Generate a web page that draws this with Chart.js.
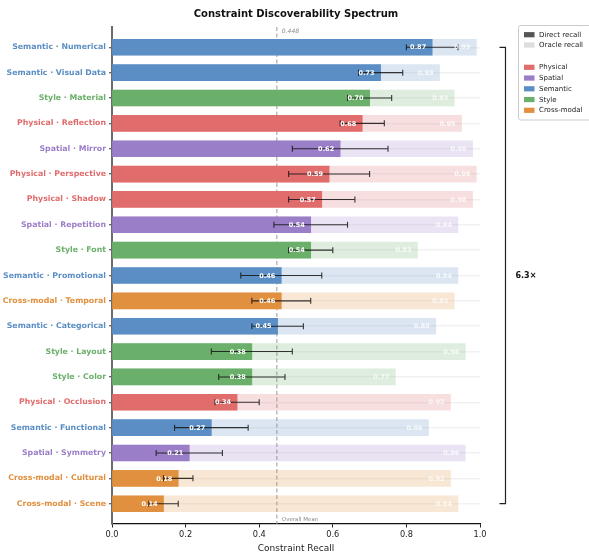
<!DOCTYPE html>
<html>
<head>
<meta charset="utf-8">
<script src="https://cdn.jsdelivr.net/npm/chart.js@4/dist/chart.umd.min.js"></script>
<style>
  html, body { margin: 0; padding: 0; background: #fff; }
  #wrap { width: 589px; height: 555px; position: relative; }
</style>
</head>
<body>
<div id="wrap"><canvas id="c" width="589" height="555"></canvas></div>
<script>
const categories = [
  'Semantic · Numerical', 'Semantic · Visual Data', 'Style · Material', 'Physical · Reflection',
  'Spatial · Mirror', 'Physical · Perspective', 'Physical · Shadow', 'Spatial · Repetition',
  'Style · Font', 'Semantic · Promotional', 'Cross-modal · Temporal', 'Semantic · Categorical',
  'Style · Layout', 'Style · Color', 'Physical · Occlusion', 'Semantic · Functional',
  'Spatial · Symmetry', 'Cross-modal · Cultural', 'Cross-modal · Scene'
];
const groups = [
  'Semantic', 'Semantic', 'Style', 'Physical', 'Spatial', 'Physical', 'Physical', 'Spatial',
  'Style', 'Semantic', 'Cross-modal', 'Semantic', 'Style', 'Style', 'Physical', 'Semantic',
  'Spatial', 'Cross-modal', 'Cross-modal'
];
const directRecall = [0.87, 0.73, 0.70, 0.68, 0.62, 0.59, 0.57, 0.54, 0.54, 0.46, 0.46, 0.45, 0.38, 0.38, 0.34, 0.27, 0.21, 0.18, 0.14];
const oracleRecall = [0.99, 0.89, 0.93, 0.95, 0.98, 0.99, 0.98, 0.94, 0.83, 0.94, 0.93, 0.88, 0.96, 0.77, 0.92, 0.86, 0.96, 0.92, 0.94];
const errLow  = [0.80, 0.67, 0.64, 0.62, 0.49, 0.48, 0.48, 0.44, 0.48, 0.35, 0.38, 0.38, 0.27, 0.29, 0.28, 0.17, 0.12, 0.14, 0.10];
const errHigh = [0.94, 0.79, 0.76, 0.74, 0.75, 0.70, 0.66, 0.64, 0.60, 0.57, 0.54, 0.52, 0.49, 0.47, 0.40, 0.37, 0.30, 0.22, 0.18];
const overallMean = 0.448;
const xTicks = [0.0, 0.2, 0.4, 0.6, 0.8, 1.0];
const groupNames = ['Physical', 'Spatial', 'Semantic', 'Style', 'Cross-modal'];
const groupColors = ['#E06C6C', '#9B7EC8', '#5B8EC4', '#6AAF6A', '#E0903F'];
const ratioLabel = '6.3×';
const titleText = 'Constraint Discoverability Spectrum';

const FONT = "'DejaVu Sans', sans-serif";
function colorOf(g) { return groupColors[groupNames.indexOf(g)]; }
function hexA(hex, a) {
  const n = parseInt(hex.slice(1), 16);
  return `rgba(${(n >> 16) & 255},${(n >> 8) & 255},${n & 255},${a})`;
}

const directData = directRecall.map((v, i) => ({ x: v, y: i }));
const oracleData = oracleRecall.map((v, i) => ({ x: v, y: i }));

const overlay = {
  id: 'overlay',
  beforeDatasetsDraw(chart) {
    const { ctx, chartArea, scales } = chart;
    const xm = scales.x.getPixelForValue(overallMean);
    ctx.save();
    ctx.strokeStyle = '#9a9a9a';
    ctx.lineWidth = 1;
    ctx.setLineDash([4, 2.5]);
    ctx.beginPath();
    ctx.moveTo(xm, chartArea.top);
    ctx.lineTo(xm, chartArea.bottom);
    ctx.stroke();
    ctx.restore();
  },
  afterDatasetsDraw(chart) {
    const { ctx, chartArea, scales } = chart;
    const xs = scales.x, ys = scales.y;
    ctx.save();
    // error bars
    ctx.strokeStyle = 'rgba(20,20,20,0.85)';
    ctx.lineWidth = 1.1;
    for (let i = 0; i < categories.length; i++) {
      const y = ys.getPixelForValue(i);
      const a = xs.getPixelForValue(errLow[i]);
      const b = xs.getPixelForValue(errHigh[i]);
      ctx.beginPath();
      ctx.moveTo(a, y); ctx.lineTo(b, y);
      ctx.moveTo(a, y - 3); ctx.lineTo(a, y + 3);
      ctx.moveTo(b, y - 3); ctx.lineTo(b, y + 3);
      ctx.stroke();
    }
    // value labels
    ctx.font = `bold 6.5px ${FONT}`;
    ctx.textAlign = 'right';
    ctx.textBaseline = 'middle';
    for (let i = 0; i < categories.length; i++) {
      const y = ys.getPixelForValue(i);
      ctx.fillStyle = '#ffffff';
      ctx.fillText(directRecall[i].toFixed(2), xs.getPixelForValue(directRecall[i]) - 6, y + 0.5);
      ctx.fillStyle = 'rgba(255,255,255,0.8)';
      ctx.fillText(oracleRecall[i].toFixed(2), xs.getPixelForValue(oracleRecall[i]) - 6, y + 0.5);
    }
    // mean labels
    const xm = xs.getPixelForValue(overallMean);
    ctx.textAlign = 'left';
    ctx.fillStyle = '#888';
    ctx.font = `italic 6px ${FONT}`;
    ctx.fillText(overallMean.toFixed(3), xm + 5, chartArea.top + 4);
    ctx.font = `5.5px ${FONT}`;
    ctx.fillText('Overall Mean', xm + 5, chartArea.bottom - 4);
    // bracket
    const y0 = ys.getPixelForValue(0), y1 = ys.getPixelForValue(categories.length - 1);
    const bx = 505.5;
    ctx.strokeStyle = '#222';
    ctx.lineWidth = 1.2;
    ctx.beginPath();
    ctx.moveTo(bx - 6, y0); ctx.lineTo(bx, y0); ctx.lineTo(bx, y1); ctx.lineTo(bx - 6, y1);
    ctx.stroke();
    ctx.fillStyle = '#111';
    ctx.font = `bold 8px ${FONT}`;
    ctx.textAlign = 'left';
    ctx.fillText(ratioLabel, bx + 10, (y0 + y1) / 2);
    // title
    ctx.font = `bold 10px ${FONT}`;
    ctx.textAlign = 'center';
    ctx.fillStyle = '#111';
    ctx.fillText(titleText, (chartArea.left + chartArea.right) / 2, 14);
    // legend
    const lx = 518.5, ly = 25.5, lw = 80, lh = 94.5;
    ctx.strokeStyle = '#cccccc';
    ctx.lineWidth = 1;
    ctx.fillStyle = 'rgba(255,255,255,0.9)';
    ctx.beginPath();
    if (ctx.roundRect) ctx.roundRect(lx, ly, lw, lh, 2); else ctx.rect(lx, ly, lw, lh);
    ctx.fill(); ctx.stroke();
    const items = [
      ['Direct recall', '#555555', 34.7],
      ['Oracle recall', '#dddddd', 45],
    ];
    groupNames.forEach((g, k) => items.push([g, groupColors[k], 67.3 + k * 10.75]));
    ctx.font = `7px ${FONT}`;
    ctx.textBaseline = 'middle';
    ctx.textAlign = 'left';
    items.forEach(([t, c, y]) => {
      ctx.fillStyle = c;
      ctx.fillRect(524, y - 2.6, 10.5, 5.2);
      ctx.fillStyle = '#222';
      ctx.fillText(t, 539, y + 0.3);
    });
    ctx.restore();
  }
};

new Chart(document.getElementById('c'), {
  type: 'bar',
  data: {
    datasets: [
      {
        label: 'Direct recall',
        data: directData,
        backgroundColor: groups.map(g => colorOf(g)),
        barThickness: 16,
        grouped: false
      },
      {
        label: 'Oracle recall',
        data: oracleData,
        backgroundColor: groups.map(g => hexA(colorOf(g), 0.22)),
        barThickness: 16,
        grouped: false
      }
    ]
  },
  options: {
    indexAxis: 'y',
    responsive: false,
    animation: false,
    devicePixelRatio: 1,
    layout: { padding: { top: 27, right: 109, left: 0, bottom: 0 } },
    plugins: { legend: { display: false }, tooltip: { enabled: false }, title: { display: false } },
    scales: {
      x: {
        type: 'linear',
        min: 0, max: 1,
        afterBuildTicks(axis) { axis.ticks = xTicks.map(v => ({ value: v })); },
        afterFit(s) { s.height = 31; },
        ticks: {
          callback: v => Number(v).toFixed(1),
          font: { family: FONT, size: 8.2 },
          color: '#222',
          padding: 2,
          maxRotation: 0
        },
        grid: { drawOnChartArea: false, drawTicks: true, tickLength: 3.5, tickColor: '#222', tickWidth: 1 },
        border: { display: true, color: '#111', width: 1.2 },
        title: {
          display: true, text: 'Constraint Recall',
          font: { family: FONT, size: 9 }, color: '#222',
          padding: { top: 0, bottom: 1 }
        }
      },
      y: {
        type: 'linear',
        reverse: true,
        offset: false,
        min: -0.8, max: 18.8,
        afterBuildTicks(axis) { axis.ticks = categories.map((_, i) => ({ value: i })); },
        afterFit(s) { s.width = 112; },
        ticks: {
          callback: (v) => categories[v],
          color: (ctx) => colorOf(groups[ctx.tick.value]),
          font: { family: FONT, size: 7.8, weight: 'bold' },
          padding: 3,
          autoSkip: false
        },
        grid: {
          offset: false,
          drawOnChartArea: true,
          color: 'rgba(0,0,0,0.055)',
          lineWidth: 1.5,
          drawTicks: true, tickLength: 3, tickColor: '#333', tickWidth: 1
        },
        border: { display: true, color: '#6b6b6b', width: 2 }
      }
    }
  },
  plugins: [overlay]
});
</script>
</body>
</html>
